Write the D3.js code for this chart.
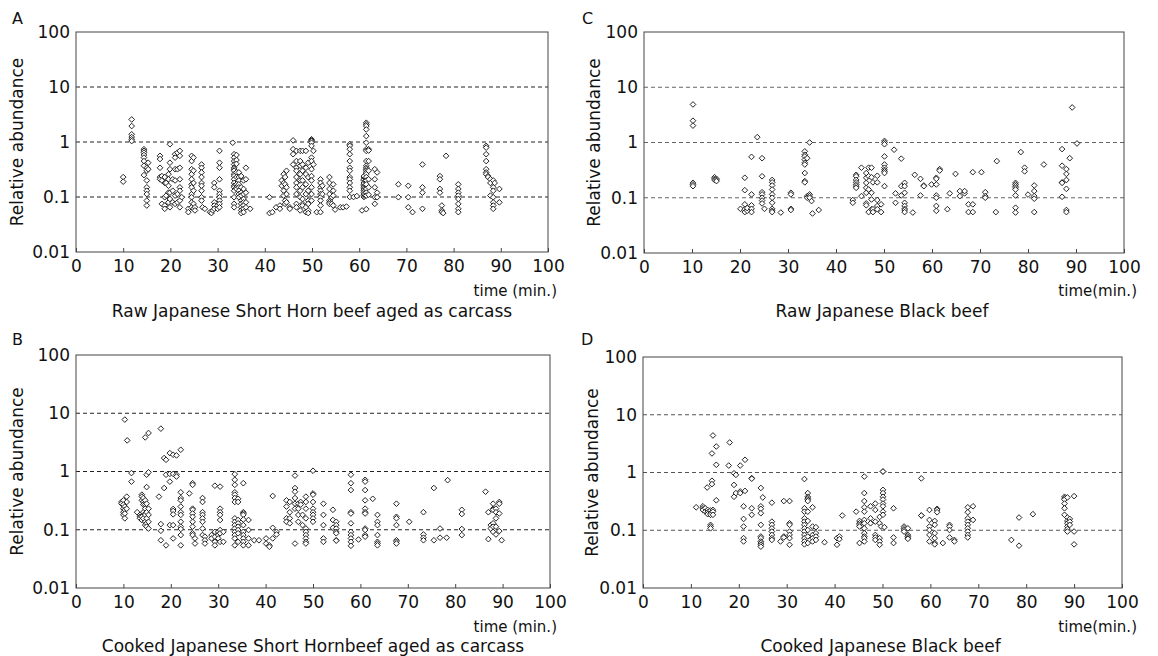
<!DOCTYPE html>
<html>
<head>
<meta charset="utf-8">
<script src="https://cdn.jsdelivr.net/npm/d3@7"></script>
<style>
  body { margin: 0; background: #fff; }
  svg text { font-family: 'DejaVu Sans', sans-serif; fill: #111; }
</style>
</head>
<body>
<div id="chart"></div>
<script>
// [time (min.), [relative abundance values at that time]]
const rawShortHorn = [
  [10.0, [0.23, 0.19]],
  [11.8, [2.57, 1.95, 1.38, 1.23, 1.12, 1.04]],
  [14.4, [0.74, 0.69, 0.64, 0.58, 0.52, 0.45, 0.37, 0.25]],
  [15.0, [0.34, 0.30, 0.20, 0.15, 0.13, 0.113, 0.086, 0.070]],
  [15.3, [0.42, 0.32]],
  [17.8, [0.56, 0.49, 0.34, 0.23, 0.21]],
  [18.2, [0.24, 0.20, 0.075]],
  [18.8, [0.23, 0.18, 0.099, 0.070, 0.061]],
  [19.1, [0.18, 0.106]],
  [19.6, [0.26, 0.21, 0.16, 0.12, 0.080]],
  [19.9, [0.91, 0.42, 0.32, 0.12, 0.092, 0.065]],
  [20.5, [0.21, 0.13, 0.080]],
  [21.0, [0.60, 0.52, 0.32, 0.20, 0.106, 0.075]],
  [21.5, [0.64, 0.32, 0.113, 0.080]],
  [22.0, [0.69, 0.56, 0.34, 0.21, 0.15, 0.13, 0.086, 0.065]],
  [22.4, [0.099]],
  [23.8, [0.061, 0.053]],
  [24.5, [0.56, 0.45, 0.32, 0.26, 0.21, 0.17, 0.15, 0.113, 0.099, 0.080, 0.065]],
  [24.9, [0.52, 0.30, 0.18, 0.13, 0.075, 0.061]],
  [25.2, [0.065, 0.057]],
  [26.6, [0.39, 0.34, 0.28, 0.23, 0.18, 0.16, 0.13, 0.099, 0.086]],
  [26.8, [0.065]],
  [27.3, [0.061]],
  [28.4, [0.053]],
  [28.7, [0.051]],
  [29.0, [0.057]],
  [29.3, [0.18, 0.15, 0.080, 0.070, 0.061]],
  [30.0, [0.070, 0.061]],
  [30.4, [0.69, 0.42, 0.34, 0.21, 0.13, 0.113, 0.099, 0.086, 0.075, 0.065]],
  [33.2, [0.97]],
  [33.5, [0.60, 0.52, 0.45, 0.39, 0.34, 0.32, 0.30, 0.26, 0.24, 0.21, 0.18, 0.16, 0.15, 0.13, 0.099, 0.075, 0.065]],
  [34.0, [0.58, 0.47, 0.40, 0.28, 0.23, 0.17, 0.15, 0.14]],
  [34.5, [0.28, 0.23, 0.20, 0.17, 0.15, 0.13, 0.113, 0.099]],
  [35.0, [0.24, 0.15, 0.12, 0.106, 0.086, 0.075, 0.065, 0.057, 0.051]],
  [35.5, [0.20, 0.14, 0.113, 0.092, 0.080, 0.070, 0.061, 0.053]],
  [36.0, [0.34, 0.21, 0.12, 0.080, 0.065]],
  [36.9, [0.061]],
  [41.0, [0.099, 0.051]],
  [41.6, [0.053]],
  [42.4, [0.065]],
  [43.2, [0.070, 0.061]],
  [43.6, [0.20, 0.16]],
  [44.0, [0.26, 0.18, 0.13, 0.106]],
  [44.3, [0.23, 0.17, 0.086, 0.075]],
  [44.6, [0.30, 0.15, 0.113, 0.080]],
  [45.3, [0.065, 0.061]],
  [46.0, [1.07, 0.74, 0.60, 0.39]],
  [46.7, [0.69, 0.45, 0.34, 0.30, 0.23, 0.18, 0.15, 0.113, 0.075, 0.065]],
  [47.5, [0.69, 0.45, 0.37, 0.26, 0.20, 0.13, 0.099, 0.057]],
  [48.0, [0.69, 0.39, 0.30, 0.20, 0.15, 0.092, 0.075, 0.070]],
  [48.7, [0.69, 0.34, 0.26, 0.17, 0.113, 0.065, 0.053]],
  [49.2, [0.42, 0.23, 0.13, 0.086, 0.075, 0.057, 0.051]],
  [49.9, [1.12, 1.07, 1.04, 0.97, 0.85, 0.52, 0.45, 0.32, 0.24, 0.20, 0.15, 0.113, 0.086]],
  [50.3, [0.69, 0.39]],
  [51.0, [0.053]],
  [51.8, [0.21, 0.18, 0.15, 0.13, 0.113, 0.099, 0.086, 0.070, 0.053]],
  [52.2, [0.16, 0.113]],
  [53.7, [0.23, 0.18, 0.14, 0.113, 0.086, 0.080, 0.075]],
  [54.2, [0.099, 0.075]],
  [54.5, [0.17, 0.13, 0.106, 0.070]],
  [54.9, [0.059]],
  [56.0, [0.065]],
  [56.6, [0.065]],
  [57.3, [0.067]],
  [58.0, [0.91, 0.85, 0.74, 0.60, 0.45, 0.34, 0.30, 0.23, 0.21, 0.18, 0.15, 0.13, 0.100]],
  [58.8, [0.100]],
  [59.5, [0.104]],
  [60.6, [0.057]],
  [61.0, [0.10, 0.106, 0.113, 0.12, 0.13, 0.14, 0.15, 0.16, 0.17, 0.18, 0.20, 0.21, 0.23, 0.24]],
  [61.5, [2.24, 2.09, 1.95, 1.69, 1.28, 0.97, 0.74, 0.69, 0.45, 0.37, 0.34, 0.32, 0.30, 0.28, 0.26, 0.23, 0.20, 0.17, 0.14, 0.12, 0.106, 0.060]],
  [62.0, [0.74, 0.70, 0.45, 0.30, 0.21, 0.15, 0.11]],
  [63.3, [0.32, 0.21, 0.15, 0.099, 0.075]],
  [63.8, [0.28, 0.12, 0.099]],
  [68.3, [0.17, 0.099]],
  [70.4, [0.16, 0.099, 0.065]],
  [71.3, [0.053]],
  [73.4, [0.39, 0.15, 0.12, 0.061]],
  [77.1, [0.24, 0.21, 0.14, 0.12]],
  [77.5, [0.070, 0.057, 0.053]],
  [77.8, [0.051]],
  [78.4, [0.56]],
  [81.0, [0.17, 0.14, 0.12, 0.106, 0.092, 0.075, 0.061, 0.053]],
  [86.9, [0.85, 0.79, 0.60, 0.45, 0.32, 0.28, 0.26]],
  [87.3, [0.24, 0.23]],
  [87.8, [0.21, 0.18, 0.106]],
  [88.4, [0.20, 0.15, 0.13, 0.099, 0.080, 0.070, 0.061]],
  [88.7, [0.18]],
  [89.7, [0.14, 0.080]]
];

const rawBlack = [
  [10.2, [4.88, 2.48, 2.02, 0.186, 0.174, 0.162]],
  [14.7, [0.235, 0.22, 0.21]],
  [15.1, [0.22, 0.21, 0.20]],
  [20.1, [0.063]],
  [21.0, [0.23, 0.137, 0.076, 0.062, 0.055]],
  [21.5, [0.058, 0.065]],
  [22.4, [0.55, 0.115, 0.073, 0.063, 0.055]],
  [23.6, [1.25]],
  [24.6, [0.52, 0.245, 0.126, 0.115, 0.10, 0.089, 0.079]],
  [25.1, [0.063]],
  [26.7, [0.21, 0.19, 0.167, 0.141, 0.115, 0.10, 0.081, 0.063, 0.058, 0.055]],
  [28.5, [0.054]],
  [30.6, [0.123, 0.115, 0.063, 0.060]],
  [33.5, [0.69, 0.60, 0.56, 0.49, 0.43, 0.40, 0.28, 0.20, 0.19]],
  [34.0, [0.52, 0.107, 0.10]],
  [34.5, [1.0, 0.115, 0.107, 0.10]],
  [34.9, [0.087]],
  [35.1, [0.052]],
  [36.4, [0.060]],
  [43.5, [0.091, 0.081]],
  [44.2, [0.26, 0.245, 0.21, 0.19, 0.174, 0.162, 0.151]],
  [45.3, [0.35, 0.107]],
  [46.3, [0.28, 0.23, 0.186, 0.151, 0.123, 0.079, 0.073]],
  [46.8, [0.35, 0.245, 0.141, 0.055]],
  [47.4, [0.35, 0.235, 0.123, 0.093, 0.062]],
  [47.7, [0.19, 0.062, 0.055]],
  [48.6, [0.25, 0.19, 0.091, 0.071, 0.062]],
  [49.4, [0.076, 0.055]],
  [50.1, [1.07, 1.0, 0.93, 0.56, 0.40, 0.35, 0.32, 0.30, 0.28, 0.162]],
  [52.1, [0.74]],
  [52.4, [0.120, 0.081]],
  [53.6, [0.51, 0.162, 0.110]],
  [54.3, [0.186, 0.162, 0.123, 0.081, 0.071, 0.063, 0.060, 0.055]],
  [56.0, [0.054]],
  [56.4, [0.26]],
  [57.6, [0.22, 0.110]],
  [58.3, [0.167, 0.162]],
  [59.9, [0.174]],
  [60.9, [0.23, 0.22, 0.174, 0.110, 0.100, 0.071, 0.058]],
  [61.6, [0.33, 0.31]],
  [63.2, [0.062]],
  [63.7, [0.120]],
  [64.9, [0.27]],
  [65.8, [0.132, 0.107]],
  [66.8, [0.120, 0.132]],
  [67.6, [0.076, 0.055]],
  [68.5, [0.29, 0.076, 0.055]],
  [70.3, [0.29]],
  [71.1, [0.126, 0.107, 0.100]],
  [73.3, [0.055]],
  [73.5, [0.46]],
  [77.4, [0.186, 0.174, 0.162, 0.151, 0.141, 0.110, 0.066, 0.054]],
  [78.5, [0.67]],
  [79.3, [0.35, 0.30]],
  [80.0, [0.114]],
  [81.3, [0.167, 0.132, 0.107, 0.096, 0.055]],
  [83.3, [0.40]],
  [87.1, [0.76, 0.38, 0.19, 0.186, 0.104]],
  [88.0, [0.33, 0.27, 0.21, 0.145, 0.060, 0.055]],
  [88.7, [0.52]],
  [89.2, [4.31]],
  [90.2, [0.96]]
];

const cookedShortHorn = [
  [9.6, [0.30, 0.28]],
  [10.0, [0.32, 0.27, 0.23, 0.20, 0.18]],
  [10.3, [7.78, 0.25, 0.22, 0.19, 0.157]],
  [10.7, [0.37, 0.30, 0.23]],
  [10.8, [3.42]],
  [11.7, [0.94, 0.67]],
  [12.9, [0.20]],
  [13.5, [0.18, 0.167, 0.157]],
  [13.9, [0.40, 0.37, 0.32, 0.167, 0.147]],
  [14.2, [0.35, 0.30, 0.27, 0.20, 0.157]],
  [14.6, [3.85, 0.32, 0.27, 0.23, 0.19, 0.18, 0.137, 0.12]],
  [14.9, [0.88, 0.54, 0.28, 0.20, 0.157, 0.129, 0.113]],
  [15.3, [4.58, 0.97, 0.23, 0.18, 0.137, 0.105]],
  [17.5, [0.37]],
  [17.9, [5.44, 0.125, 0.096, 0.066]],
  [18.6, [1.70, 0.52]],
  [19.0, [1.59, 0.88, 0.054]],
  [19.8, [2.07, 0.91, 0.67, 0.12]],
  [20.5, [1.94, 0.91, 0.227, 0.21, 0.184, 0.12, 0.071]],
  [21.2, [1.89, 0.88, 0.82]],
  [22.1, [2.36, 0.44, 0.35, 0.32, 0.25, 0.20, 0.18, 0.137, 0.113, 0.103, 0.081, 0.054]],
  [23.9, [0.42]],
  [24.6, [0.63, 0.59, 0.23, 0.22, 0.19, 0.167, 0.137, 0.113, 0.087, 0.081]],
  [25.1, [0.071, 0.058]],
  [26.7, [0.35, 0.30, 0.20, 0.18, 0.157, 0.137, 0.105, 0.081]],
  [27.2, [0.076, 0.066, 0.058]],
  [28.6, [0.081, 0.071]],
  [29.3, [0.57, 0.092, 0.076, 0.062, 0.054]],
  [30.0, [0.092, 0.081, 0.071]],
  [30.4, [0.55, 0.23, 0.20, 0.18, 0.147, 0.099, 0.087, 0.062]],
  [31.1, [0.092, 0.062]],
  [33.5, [0.90, 0.72, 0.59, 0.44, 0.40, 0.35, 0.30, 0.157, 0.137, 0.12, 0.105, 0.092, 0.081, 0.071, 0.054]],
  [34.2, [0.34, 0.30, 0.147, 0.129, 0.113, 0.099, 0.087, 0.062]],
  [35.3, [0.63, 0.20, 0.19, 0.18, 0.15, 0.12, 0.092, 0.081, 0.071, 0.062, 0.054]],
  [36.4, [0.147, 0.099, 0.071, 0.054]],
  [37.6, [0.066]],
  [38.6, [0.066]],
  [40.1, [0.071, 0.058]],
  [40.8, [0.054, 0.051]],
  [41.5, [0.38, 0.108, 0.071]],
  [42.3, [0.092, 0.083]],
  [44.4, [0.32, 0.25, 0.157, 0.137]],
  [45.1, [0.30, 0.20, 0.157, 0.129]],
  [46.2, [0.85, 0.52, 0.45, 0.35, 0.28, 0.23, 0.058]],
  [46.9, [0.28, 0.23, 0.18, 0.137]],
  [47.4, [0.30, 0.27]],
  [47.8, [0.18, 0.12]],
  [48.5, [0.37, 0.30, 0.23, 0.157, 0.105, 0.092, 0.081, 0.071, 0.062, 0.058]],
  [50.0, [1.03, 0.42, 0.40, 0.30, 0.23, 0.20, 0.18, 0.157, 0.137]],
  [52.2, [0.28, 0.18, 0.12, 0.071, 0.062]],
  [54.2, [0.22, 0.147, 0.108]],
  [54.9, [0.137, 0.12, 0.105, 0.092, 0.087, 0.066, 0.065]],
  [58.0, [0.88, 0.63, 0.48, 0.20, 0.19, 0.129, 0.092, 0.081, 0.071, 0.062, 0.053]],
  [59.6, [0.068]],
  [61.0, [0.72, 0.67, 0.48, 0.32, 0.23, 0.20, 0.19, 0.105, 0.099, 0.081, 0.076]],
  [62.6, [0.34]],
  [63.6, [0.18, 0.137, 0.12, 0.081, 0.062, 0.058, 0.054]],
  [67.6, [0.28, 0.167, 0.157, 0.12, 0.066, 0.062, 0.058]],
  [70.3, [0.137]],
  [73.3, [0.20, 0.083, 0.073, 0.066]],
  [75.5, [0.52, 0.066]],
  [76.8, [0.105, 0.073]],
  [78.2, [0.073]],
  [78.4, [0.71]],
  [81.4, [0.22, 0.186, 0.103, 0.081]],
  [86.4, [0.45]],
  [87.0, [0.20, 0.069]],
  [87.5, [0.12, 0.105]],
  [88.0, [0.28, 0.23, 0.22, 0.129, 0.113, 0.092]],
  [88.6, [0.23, 0.20, 0.157, 0.113, 0.083]],
  [89.3, [0.30, 0.28, 0.19, 0.095]],
  [89.8, [0.066]]
];

const cookedBlack = [
  [11.1, [0.25]],
  [12.5, [0.26, 0.24, 0.225]],
  [13.0, [0.24, 0.21]],
  [13.4, [0.55]],
  [13.5, [0.225, 0.205, 0.19]],
  [14.1, [0.22, 0.197, 0.185, 0.124, 0.116, 0.108]],
  [14.4, [2.14, 0.72, 0.63]],
  [14.6, [4.38, 0.225, 0.21, 0.185]],
  [15.3, [2.82, 1.36, 0.33]],
  [17.9, [1.32]],
  [18.1, [3.31]],
  [19.0, [0.97, 0.61, 0.38]],
  [19.4, [0.91, 0.44]],
  [20.3, [1.32, 0.47, 0.44]],
  [21.0, [0.26, 0.157, 0.116, 0.073, 0.064]],
  [21.3, [1.66, 0.48]],
  [22.7, [0.80, 0.78, 0.24, 0.185]],
  [24.6, [0.54, 0.26, 0.235, 0.197, 0.124, 0.078, 0.073, 0.064, 0.060, 0.056, 0.052]],
  [25.0, [0.37]],
  [26.9, [0.30, 0.141, 0.124, 0.108, 0.095, 0.083, 0.073, 0.068]],
  [28.7, [0.064]],
  [29.4, [0.32, 0.078, 0.075]],
  [30.6, [0.32, 0.132, 0.124, 0.095, 0.083, 0.073, 0.056]],
  [33.7, [0.77, 0.24, 0.21, 0.161, 0.141, 0.124, 0.108, 0.095, 0.083, 0.073, 0.064, 0.057]],
  [34.4, [0.44, 0.38, 0.36, 0.34, 0.32, 0.21, 0.145, 0.101, 0.078, 0.060]],
  [35.4, [0.25, 0.116, 0.083, 0.073, 0.064]],
  [36.1, [0.113, 0.089, 0.078, 0.068]],
  [37.9, [0.062]],
  [40.5, [0.056, 0.073]],
  [41.0, [0.078, 0.070]],
  [41.6, [0.18]],
  [44.5, [0.21]],
  [45.2, [0.145, 0.132, 0.124, 0.116, 0.060]],
  [46.2, [0.85, 0.44, 0.32, 0.25, 0.21, 0.151, 0.132, 0.108, 0.089, 0.078, 0.073, 0.064]],
  [47.5, [0.26, 0.161, 0.132]],
  [48.5, [0.29, 0.225, 0.141, 0.083, 0.075, 0.068]],
  [49.4, [0.17, 0.132, 0.073, 0.064, 0.056]],
  [49.7, [0.116]],
  [50.1, [1.04, 1.04, 0.50, 0.44, 0.38, 0.34, 0.29, 0.26, 0.21, 0.185]],
  [50.4, [0.113]],
  [52.3, [0.24, 0.075, 0.060]],
  [54.5, [0.116, 0.108, 0.101, 0.095]],
  [55.3, [0.108, 0.083, 0.078, 0.073, 0.071]],
  [58.1, [0.79, 0.18, 0.18]],
  [59.8, [0.225, 0.151, 0.116, 0.101, 0.083, 0.064]],
  [60.9, [0.145, 0.124, 0.089, 0.073, 0.060, 0.057]],
  [61.4, [0.235, 0.225, 0.205]],
  [62.6, [0.060]],
  [64.0, [0.124, 0.116, 0.101, 0.075]],
  [65.0, [0.068, 0.064]],
  [67.8, [0.25, 0.205, 0.161, 0.141, 0.124, 0.108, 0.095, 0.083, 0.075]],
  [68.9, [0.26, 0.151]],
  [76.9, [0.068]],
  [78.5, [0.166, 0.054]],
  [81.4, [0.19]],
  [88.0, [0.38, 0.36, 0.34, 0.29, 0.24, 0.185]],
  [88.6, [0.37, 0.166, 0.145, 0.132, 0.116, 0.105, 0.095]],
  [89.1, [0.157, 0.141, 0.124]],
  [90.0, [0.39, 0.095, 0.057]]
];

const panelLetters = ['A', 'C', 'B', 'D'];
const captions = [
  'Raw Japanese Short Horn beef aged as carcass',
  'Raw Japanese Black beef',
  'Cooked Japanese Short Hornbeef aged as carcass',
  'Cooked Japanese Black beef'
];
const xTitles = ['time (min.)', 'time(min.)', 'time (min.)', 'time(min.)'];
const xTickValues = [0, 10, 20, 30, 40, 50, 60, 70, 80, 90, 100];
const yTickValues = [0.01, 0.1, 1, 10, 100];
const yTickLabels = ['0.01', '0.1', '1', '10', '100'];
const gridValues = [0.1, 1, 10];
const panelData = [rawShortHorn, rawBlack, cookedShortHorn, cookedBlack];

// layout of each panel on the page
const frames = [
  { left: 76, top: 32, width: 472, height: 220, letterX: 12, titleX: 23, gridColor: '#222' },
  { left: 644, top: 32, width: 480, height: 221, letterX: 582, titleX: 600, gridColor: '#666' },
  { left: 76, top: 355, width: 474, height: 233, letterX: 12, titleX: 23, gridColor: '#222' },
  { left: 643, top: 357, width: 479, height: 231, letterX: 581, titleX: 598, gridColor: '#555' }
];
const letterY = [24, 24, 345, 345];
const xTitleY = [296, 296, 632, 632];
const captionY = [317, 317, 652, 652];

const svg = d3.select('#chart')
  .append('svg')
  .attr('width', 1158)
  .attr('height', 656);

const marker = d3.symbol().type(d3.symbolSquare).size(16)();

frames.forEach((f, i) => {
  const x = d3.scaleLinear().domain([0, 100]).range([f.left, f.left + f.width]);
  const y = d3.scaleLog().domain([0.01, 100]).range([f.top + f.height, f.top]);
  const g = svg.append('g').attr('class', 'panel');

  // dashed reference lines
  g.selectAll('.grid')
    .data(gridValues)
    .join('line')
    .attr('class', 'grid')
    .attr('x1', f.left)
    .attr('x2', f.left + f.width)
    .attr('y1', d => y(d))
    .attr('y2', d => y(d))
    .attr('stroke', f.gridColor)
    .attr('stroke-width', 1)
    .attr('stroke-dasharray', '4,3');

  const xAxis = d3.axisBottom(x)
    .tickValues(xTickValues)
    .tickFormat(d3.format('d'))
    .tickSizeInner(-4)
    .tickSizeOuter(0)
    .tickPadding(8);

  const yAxis = d3.axisLeft(y)
    .tickValues(yTickValues)
    .tickFormat((d, k) => yTickLabels[k])
    .tickSize(0)
    .tickPadding(6);

  const gx = g.append('g')
    .attr('transform', `translate(0,${f.top + f.height})`)
    .call(xAxis);
  gx.select('.domain').remove();
  gx.selectAll('line').attr('stroke', '#444');
  gx.selectAll('text').style('font-size', '17px').attr('fill', '#111');

  const gy = g.append('g')
    .attr('transform', `translate(${f.left},0)`)
    .call(yAxis);
  gy.select('.domain').remove();
  gy.selectAll('text').style('font-size', '17px').attr('fill', '#111');

  g.append('rect')
    .attr('x', f.left)
    .attr('y', f.top)
    .attr('width', f.width)
    .attr('height', f.height)
    .attr('fill', 'none')
    .attr('stroke', '#444')
    .attr('stroke-width', 1);

  const points = panelData[i].flatMap(([t, vals]) => vals.map(v => ({ t, v })));

  g.selectAll('.pt')
    .data(points)
    .join('path')
    .attr('class', 'pt')
    .attr('d', marker)
    .attr('transform', d => `translate(${x(d.t)},${y(d.v)}) rotate(45)`)
    .attr('fill', '#fff')
    .attr('stroke', '#1a1a1a')
    .attr('stroke-width', 0.9);

  g.append('text')
    .attr('x', f.letterX)
    .attr('y', letterY[i])
    .style('font-size', '16px')
    .text(panelLetters[i]);

  g.append('text')
    .attr('text-anchor', 'middle')
    .attr('transform', `translate(${f.titleX},${f.top + f.height / 2}) rotate(-90)`)
    .style('font-size', '17px')
    .text('Relative abundance');

  g.append('text')
    .attr('text-anchor', 'end')
    .attr('x', 557 + (i % 2) * 580)
    .attr('y', xTitleY[i])
    .style('font-size', '15px')
    .text(xTitles[i]);

  g.append('text')
    .attr('text-anchor', 'middle')
    .attr('x', f.left + f.width / 2 - (i % 2) * 2)
    .attr('y', captionY[i])
    .style('font-size', '17px')
    .text(captions[i]);
});
</script>
</body>
</html>
